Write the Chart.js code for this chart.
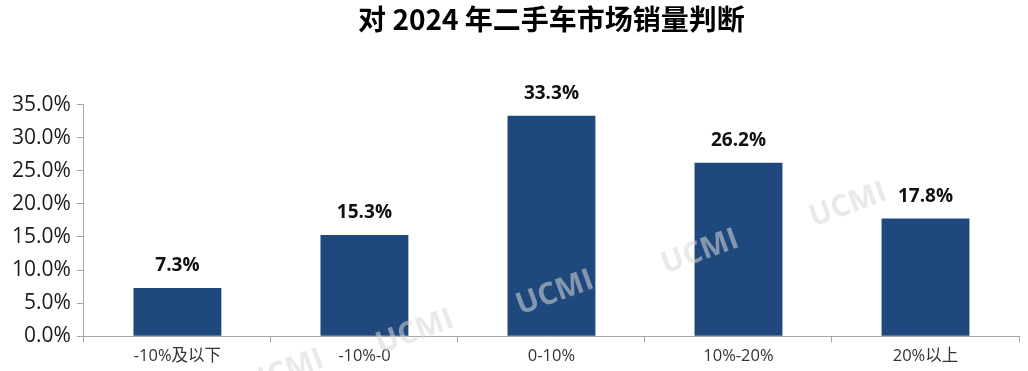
<!DOCTYPE html>
<html>
<head>
<meta charset="utf-8">
<script src="https://cdn.jsdelivr.net/npm/chart.js@4/dist/chart.umd.min.js"></script>
<style>
  html, body { margin: 0; padding: 0; background: #fff; }
  #wrap { width: 1028px; height: 371px; }
</style>
</head>
<body>
<div id="wrap"><canvas id="canvas"></canvas></div>
<script>
"use strict";

// 数据
const categories = ["-10%及以下", "-10%-0", "0-10%", "10%-20%", "20%以上"];
const shares = [7.3, 15.3, 33.3, 26.2, 17.8];
const yTicks = [0, 5, 10, 15, 20, 25, 30, 35];

const FONT = "'Open Sans', 'Noto Sans CJK SC', sans-serif";

// 柱顶数值
const valueLabels = {
  id: "valueLabels",
  afterDatasetsDraw(chart) {
    const ctx = chart.ctx;
    const meta = chart.getDatasetMeta(0);
    ctx.save();
    ctx.font = "bold 19px " + FONT;
    ctx.fillStyle = "#111";
    ctx.textAlign = "center";
    ctx.textBaseline = "middle";
    meta.data.forEach((bar, i) => {
      ctx.fillText(shares[i].toFixed(1) + "%", bar.x, bar.y - 22);
    });
    ctx.restore();
  }
};

// 水印
const watermark = {
  id: "watermark",
  afterDatasetsDraw(chart) {
    const ctx = chart.ctx;
    const spots = [[285, 372], [415, 332], [555, 293], [700, 252], [848, 205]];
    ctx.save();
    ctx.font = "bold 30px " + FONT;
    ctx.fillStyle = "rgba(215,215,215,0.55)";
    ctx.textAlign = "center";
    ctx.textBaseline = "middle";
    spots.forEach(([x, y]) => {
      ctx.save();
      ctx.translate(x, y);
      ctx.rotate(-20 * Math.PI / 180);
      ctx.fillText("UCMI", 0, 0);
      ctx.restore();
    });
    ctx.restore();
  }
};

const canvas = document.getElementById("canvas");
const ctx = canvas.getContext("2d");

new Chart(ctx, {
  type: "bar",
  data: {
    labels: categories,
    datasets: [{
      data: shares,
      backgroundColor: "#1f497d",
      barPercentage: 0.47,
      categoryPercentage: 1
    }]
  },
  options: {
    responsive: true,
    maintainAspectRatio: false,
    animation: false,
    layout: { padding: { left: 6, right: 9, top: 0, bottom: 1 } },
    plugins: {
      legend: { display: false },
      tooltip: { enabled: false },
      title: {
        display: true,
        fullSize: false,
        text: "对 2024 年二手车市场销量判断",
        color: "#000",
        font: { family: "'Noto Sans CJK SC', sans-serif", size: 28, weight: "bold" },
        padding: { top: 3, bottom: 68 }
      }
    },
    scales: {
      x: {
        grid: { drawOnChartArea: false, color: "#a6a6a6", tickLength: 6 },
        border: { color: "#a6a6a6" },
        ticks: { color: "#333", font: { family: FONT, size: 16.5 }, padding: 4 }
      },
      y: {
        min: 0,
        max: 35,
        afterBuildTicks(scale) {
          scale.ticks = yTicks.map(v => ({ value: v }));
        },
        grid: { drawOnChartArea: false, color: "#a6a6a6", tickLength: 7 },
        border: { color: "#a6a6a6" },
        ticks: {
          color: "#1a1a1a",
          font: { family: FONT, size: 21 },
          padding: 6,
          callback: v => v.toFixed(1) + "%"
        }
      }
    }
  },
  plugins: [valueLabels, watermark]
});
</script>
</body>
</html>
